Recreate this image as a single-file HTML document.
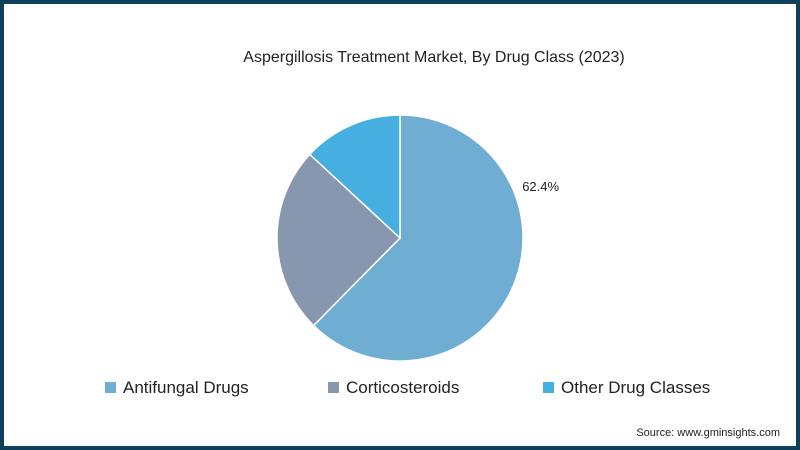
<!DOCTYPE html>
<html><head><meta charset="utf-8"><style>
body{margin:0;width:800px;height:450px;overflow:hidden;background:#fff;font-family:"Liberation Sans",sans-serif}
#frame{position:absolute;left:0;top:0;width:792px;height:442px;border:4px solid #0f3f5c;background:#fff}
.t{position:absolute;white-space:nowrap;color:#222}
.leg{position:absolute;top:378px;font-size:17px;color:#222;white-space:nowrap}
.sw{display:inline-block;width:11px;height:11px;margin-right:7px;vertical-align:0px}
</style></head><body>
<div id="frame"></div>
<div class="t" style="left:240px;width:388px;text-align:center;top:49px;font-size:16px">Aspergillosis Treatment Market, By Drug Class (2023)</div>
<svg id="pie" width="800" height="450" style="position:absolute;left:0;top:0"></svg>
<div class="leg" style="left:105px"><span class="sw" style="background:#6fadd3"></span>Antifungal Drugs</div>
<div class="leg" style="left:328px"><span class="sw" style="background:#8797b0"></span>Corticosteroids</div>
<div class="leg" style="left:543px"><span class="sw" style="background:#46aee0"></span>Other Drug Classes</div>
<div class="t" style="right:20px;top:427px;font-size:11px">Source: www.gminsights.com</div>
<script>
const categories=["Antifungal Drugs","Corticosteroids","Other Drug Classes"];
const values=[62.4,24.5,13.1];
const labels=["62.4%","",""];
const colors=["#6fadd3","#8797b0","#46aee0"];
const svg=document.getElementById('pie');
const cx=400,cy=238,r=123,NS="http://www.w3.org/2000/svg";
const total=values.reduce((a,b)=>a+b,0);
let a0=0;
function pt(a,rr){return [cx+rr*Math.sin(a),cy-rr*Math.cos(a)];}
values.forEach((v,i)=>{
  const a1=a0+v/total*2*Math.PI;
  const p0=pt(a0,r),p1=pt(a1,r);
  const large=(a1-a0)>Math.PI?1:0;
  const p=document.createElementNS(NS,'path');
  p.setAttribute('d',`M${cx},${cy}L${p0[0]},${p0[1]}A${r},${r} 0 ${large} 1 ${p1[0]},${p1[1]}Z`);
  p.setAttribute('fill',colors[i]);p.setAttribute('stroke','#fff');p.setAttribute('stroke-width','1.5');
  
  
  svg.appendChild(p);
  if(labels[i]){
    const am=a0+(a1-a0)*0.31;const lp=pt(am,r+27);
    const t=document.createElementNS(NS,'text');
    t.setAttribute('x',lp[0]);t.setAttribute('y',lp[1]+5);t.setAttribute('font-size','13');t.setAttribute('fill','#222');
    t.setAttribute('text-anchor','middle');
    t.setAttribute('font-family','Liberation Sans, sans-serif');
    t.textContent=labels[i];
    
    
    svg.appendChild(t);
  }
  a0=a1;
});
</script>
</body></html>
